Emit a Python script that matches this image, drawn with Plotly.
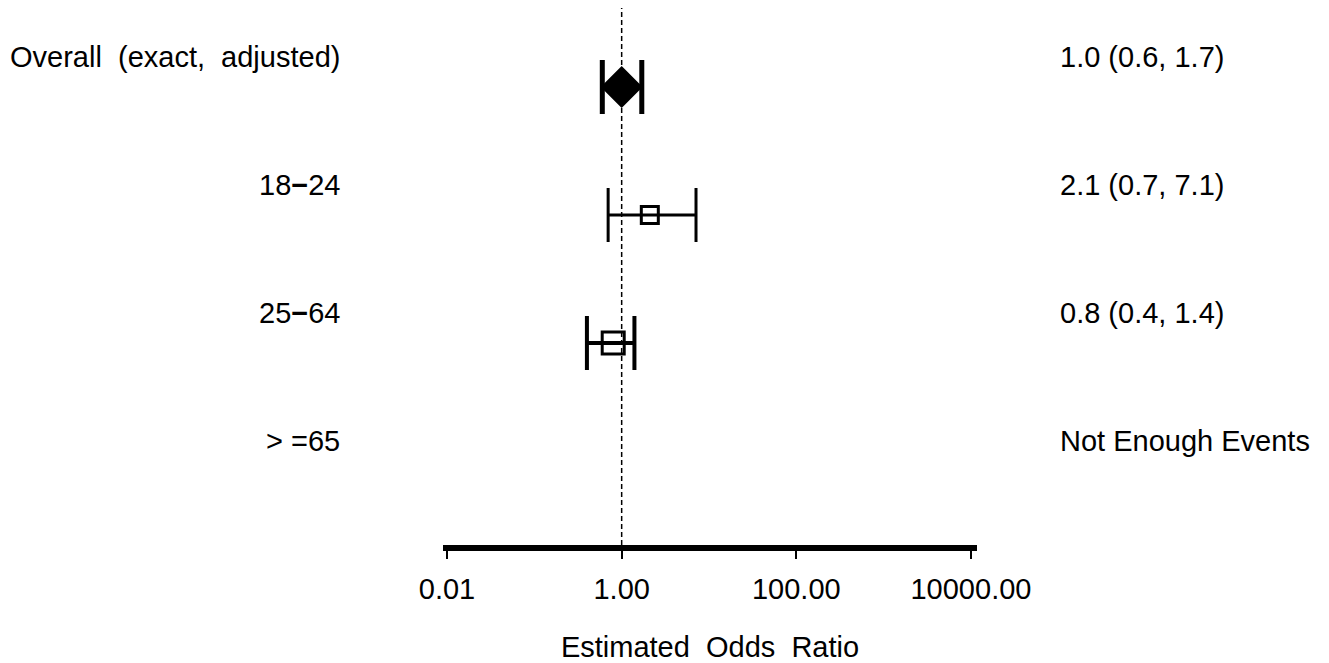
import plotly.graph_objects as go

# ---- data ----
row_labels = ["Overall  (exact,  adjusted)", "18<b>\u2212</b>24", "25<b>\u2212</b>64", "> =65"]
odds_ratio = [1.0, 2.1, 0.8, None]
ci_low = [0.6, 0.7, 0.4, None]
ci_high = [1.7, 7.1, 1.4, None]
right_labels = ["1.0 (0.6, 1.7)", "2.1 (0.7, 7.1)", "0.8 (0.4, 1.4)", "Not Enough Events"]
tick_vals = [0.01, 1, 100, 10000]
tick_text = ["0.01", "1.00", "100.00", "10000.00"]
x_title = "Estimated  Odds  Ratio"

# ---- styles ----
marker_symbols = ["diamond", "square-open", "square-open", "square-open"]
marker_sizes = [29, 17, 22, 16]
err_thick = [5, 3, 4, 3]

FONT = "Liberation Sans, Arial, sans-serif"
FS = 29
OFF = 8  # page body margin compensation

fig = go.Figure()
for i, (orv, lo, hi) in enumerate(zip(odds_ratio, ci_low, ci_high)):
    if orv is None:
        continue
    fig.add_trace(go.Scatter(
        x=[orv], y=[i], mode="markers",
        marker=dict(symbol=marker_symbols[i], size=marker_sizes[i], color="black",
                    line=dict(color="black", width=3)),
        error_x=dict(type="data", symmetric=False, array=[hi - orv], arrayminus=[orv - lo],
                     color="black", thickness=err_thick[i], width=27),
        hoverinfo="skip", showlegend=False,
    ))

FW, FH = 1329 - OFF, 663 - OFF
PL, PR = 443 - OFF, 977 - OFF
PB = 537
PW = PR - PL
ROW0, ROWH = 87 - OFF, 128

annotations = []
for i, (lab, rlab) in enumerate(zip(row_labels, right_labels)):
    annotations.append(dict(x=(342 - OFF - PL) / PW, xref="paper", y=i - 0.235, yref="y",
                            text=lab, showarrow=False, xanchor="right", yanchor="middle",
                            font=dict(size=FS, color="black", family=FONT)))
    annotations.append(dict(x=(1058 - OFF - PL) / PW, xref="paper", y=i - 0.235, yref="y",
                            text=rlab, showarrow=False, xanchor="left", yanchor="middle",
                            font=dict(size=FS, color="black", family=FONT)))

fig.update_layout(
    width=FW, height=FH,
    margin=dict(l=PL, r=FW - PR, t=0, b=FH - PB),
    paper_bgcolor="white", plot_bgcolor="white",
    font=dict(family=FONT, size=FS, color="black"),
    annotations=annotations,
    shapes=[dict(type="line", xref="x", yref="paper", x0=1, x1=1, y0=0, y1=1,
                 line=dict(color="black", width=1.5, dash="5px,3px"), layer="below")],
    xaxis=dict(type="log", range=[-2.046, 4.069], tickvals=tick_vals, ticktext=tick_text,
               showgrid=False, zeroline=False, showline=True, linewidth=6, linecolor="black",
               ticks="outside", ticklen=8, tickwidth=2, tickcolor="black",
               ticklabelstandoff=5,
               tickfont=dict(size=FS, family=FONT, color="black"),
               title=dict(text=x_title, standoff=36,
                          font=dict(size=FS, family=FONT, color="black"))),
    yaxis=dict(range=[(PB - ROW0) / ROWH, -ROW0 / ROWH], visible=False,
               showgrid=False, zeroline=False),
)

fig.write_html("out.html")
